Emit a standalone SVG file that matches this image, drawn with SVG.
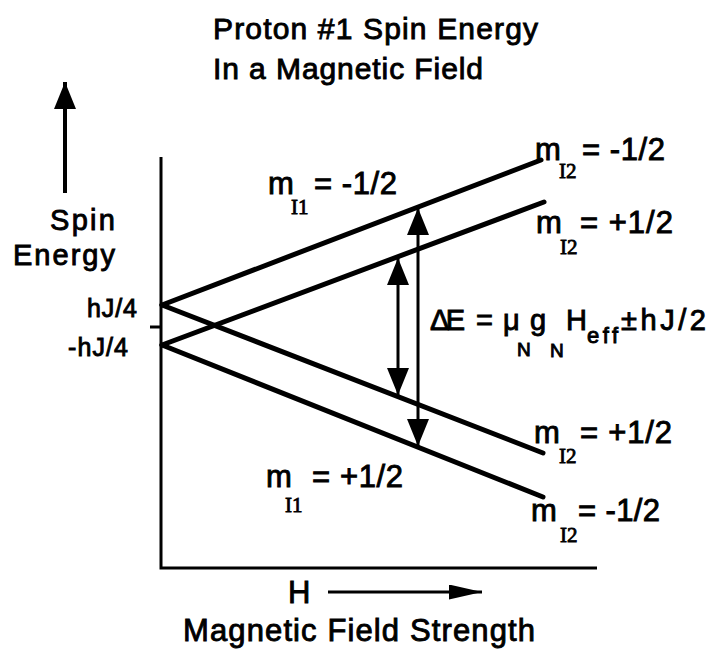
<svg xmlns="http://www.w3.org/2000/svg" width="708" height="649" viewBox="0 0 708 649">
<style>
text{font-family:"Liberation Sans",Arial,sans-serif;fill:#000;stroke:#000;stroke-width:0.9}
.t{font-size:30px}
.lab{font-size:31px}
.side{font-size:29px}
.sub{font-family:"Liberation Serif","Times New Roman",serif;font-size:21px;stroke-width:0.8}
.small{font-size:25px}
.eq{font-size:29px}
.esub{font-size:19px}
.eff{font-size:22px}
.lvl{stroke:#000;stroke-width:5;stroke-linecap:round;fill:none}
.ax{stroke:#000;stroke-width:3;fill:none}
.arr{stroke:#000;stroke-width:3;fill:none}
</style>
<defs>
<marker id="head" markerUnits="userSpaceOnUse" markerWidth="28" markerHeight="22" refX="27" refY="11" orient="auto-start-reverse">
<path d="M0,0 L27,11 L0,22 z" fill="#000"/>
</marker>
<marker id="headH" markerUnits="userSpaceOnUse" markerWidth="34" markerHeight="15" refX="33" refY="7.5" orient="auto">
<path d="M0,0 L33,7.5 L0,15 z" fill="#000"/>
</marker>
</defs>
<rect width="708" height="649" fill="#fff"/>

<g id="title">
<text class="t" x="213" y="39" textLength="325" lengthAdjust="spacing">Proton #1 Spin Energy</text>
<text class="t" x="213" y="79" textLength="270" lengthAdjust="spacing">In a Magnetic Field</text>
</g>

<g id="y-axis-label">
<line x1="65" y1="193" x2="65" y2="82" stroke="#000" stroke-width="4" marker-end="url(#head)"/>
<text class="side" x="50" y="230" textLength="65" lengthAdjust="spacing">Spin</text>
<text class="side" x="13" y="265" textLength="102" lengthAdjust="spacing">Energy</text>
</g>

<g id="axes">
<path class="ax" d="M161,157 L161,568 L597,568"/>
<line class="ax" x1="150" y1="327" x2="161" y2="327"/>
<text class="small" x="87" y="317" textLength="50" lengthAdjust="spacing">hJ/4</text>
<text class="small" x="68" y="356" textLength="60" lengthAdjust="spacing">-hJ/4</text>
</g>

<g id="levels">
<line class="lvl" x1="162" y1="305" x2="541" y2="160"/>
<line class="lvl" x1="162" y1="345" x2="544" y2="202"/>
<line class="lvl" x1="162" y1="305" x2="543" y2="453"/>
<line class="lvl" x1="162" y1="345" x2="543" y2="497"/>
</g>

<g id="connectors">
<line class="arr" x1="398" y1="258" x2="398" y2="395" marker-start="url(#head)" marker-end="url(#head)"/>
<line class="arr" x1="418" y1="208" x2="418" y2="446" marker-start="url(#head)" marker-end="url(#head)"/>
<line x1="328" y1="592" x2="482" y2="592" stroke="#000" stroke-width="3" marker-end="url(#headH)"/>
</g>

<g id="label-mI1-minus">
<text class="lab" x="268" y="194">m</text>
<text class="sub" x="291" y="214">I1</text>
<text class="lab" x="314" y="194" textLength="83" lengthAdjust="spacing">= -1/2</text>
</g>

<g id="label-mI1-plus">
<text class="lab" x="266" y="487">m</text>
<text class="sub" x="285" y="512">I1</text>
<text class="lab" x="312" y="487" textLength="91" lengthAdjust="spacing">= +1/2</text>
</g>

<g id="label-top-minus">
<text class="lab" x="535" y="160">m</text>
<text class="sub" x="559" y="178">I2</text>
<text class="lab" x="582" y="160" textLength="83" lengthAdjust="spacing">= -1/2</text>
</g>

<g id="label-top-plus">
<text class="lab" x="536" y="233">m</text>
<text class="sub" x="560" y="254">I2</text>
<text class="lab" x="580" y="233" textLength="93" lengthAdjust="spacing">= +1/2</text>
</g>

<g id="label-bot-plus">
<text class="lab" x="534" y="443">m</text>
<text class="sub" x="559" y="463">I2</text>
<text class="lab" x="580" y="443" textLength="92" lengthAdjust="spacing">= +1/2</text>
</g>

<g id="label-bot-minus">
<text class="lab" x="531" y="521">m</text>
<text class="sub" x="560" y="542">I2</text>
<text class="lab" x="578" y="521" textLength="82" lengthAdjust="spacing">= -1/2</text>
</g>

<g id="equation">
<text class="eq" x="430" y="330" textLength="35" lengthAdjust="spacing">ΔE</text>
<text class="eq" x="476" y="330">=</text>
<text class="eq" x="503" y="330">μ</text>
<text class="esub" x="517" y="356">N</text>
<text class="eq" x="530" y="330">g</text>
<text class="esub" x="550" y="357">N</text>
<text class="eq" x="566" y="330">H</text>
<text class="eff" x="587" y="343" textLength="31" lengthAdjust="spacing">eff</text>
<text class="eq" x="621" y="330" textLength="85" lengthAdjust="spacing">±hJ/2</text>
</g>

<g id="x-axis-label">
<text class="lab" x="288" y="603">H</text>
<text class="lab" x="183" y="641" textLength="352" lengthAdjust="spacing">Magnetic Field Strength</text>
</g>
</svg>
